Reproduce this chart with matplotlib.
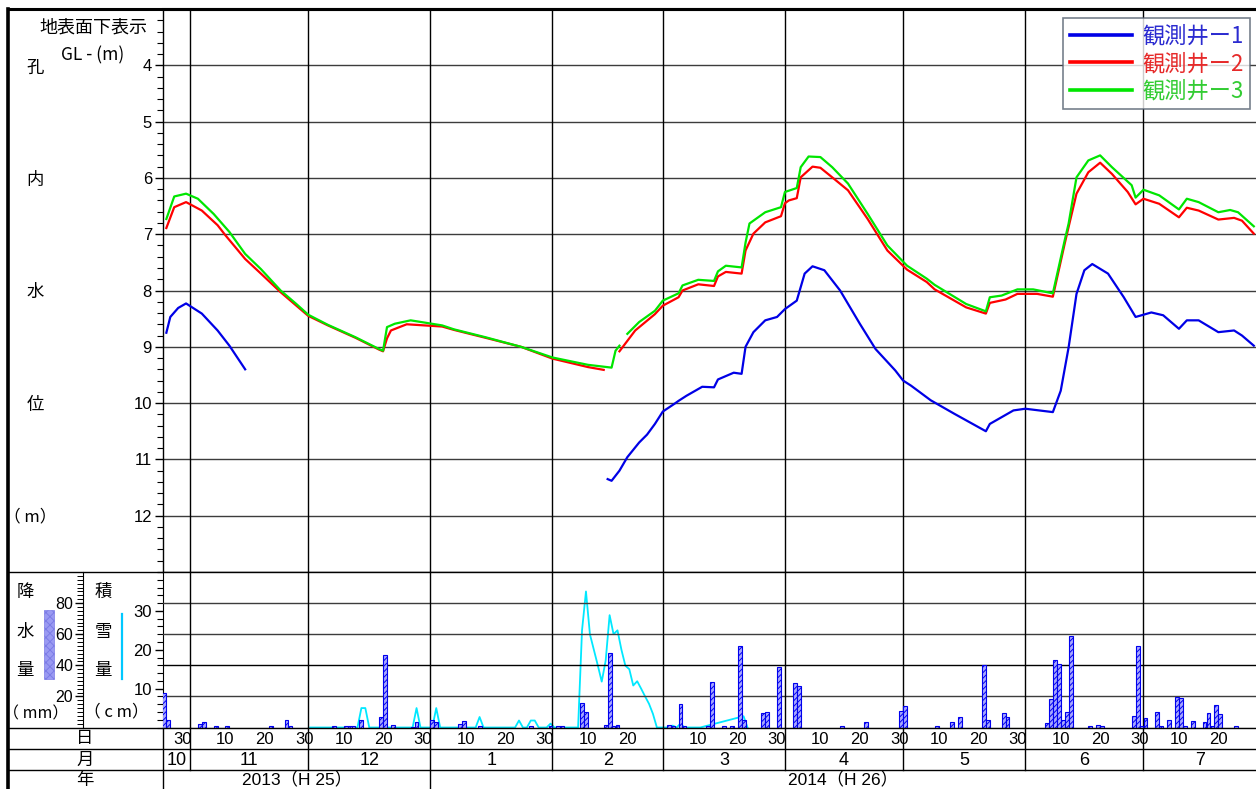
import numpy as np
import pandas as pd
import matplotlib
matplotlib.use("Agg")
import matplotlib.pyplot as plt
import matplotlib.dates as mdates
from matplotlib.lines import Line2D
from matplotlib.patches import Rectangle
from matplotlib.ticker import MultipleLocator, FixedLocator

plt.rcParams['font.family'] = ['Liberation Sans', 'Noto Sans CJK JP', 'DejaVu Sans']
plt.rcParams['hatch.linewidth'] = 0.7
JP = ['Noto Sans CJK JP', 'DejaVu Sans']
nan = np.nan

# ---------------- data ----------------
SERIES_NAMES = ['観測井ー1', '観測井ー2', '観測井ー3']

WELL1 = [('2013-10-26', 8.75), ('2013-10-27', 8.47), ('2013-10-29', 8.31), ('2013-10-31', 8.23),
         ('2013-11-04', 8.41), ('2013-11-08', 8.71), ('2013-11-11', 8.98), ('2013-11-15', 9.40),
         ('2013-11-16', nan),
         ('2014-02-15', 11.35), ('2014-02-16', 11.38), ('2014-02-18', 11.20), ('2014-02-20', 10.96),
         ('2014-02-23', 10.70), ('2014-02-25', 10.56), ('2014-02-27', 10.37), ('2014-03-01', 10.15),
         ('2014-03-04', 10.01), ('2014-03-05', 9.96), ('2014-03-07', 9.87), ('2014-03-11', 9.71),
         ('2014-03-14', 9.72), ('2014-03-15', 9.58), ('2014-03-19', 9.46), ('2014-03-21', 9.48),
         ('2014-03-22', 9.00), ('2014-03-24', 8.74), ('2014-03-27', 8.53), ('2014-03-30', 8.47),
         ('2014-04-01', 8.33), ('2014-04-04', 8.18), ('2014-04-06', 7.70), ('2014-04-08', 7.57),
         ('2014-04-11', 7.64), ('2014-04-15', 8.00), ('2014-04-20', 8.59), ('2014-04-24', 9.04),
         ('2014-04-29', 9.42), ('2014-05-01', 9.60), ('2014-05-03', 9.69), ('2014-05-08', 9.95),
         ('2014-05-14', 10.19), ('2014-05-22', 10.50), ('2014-05-23', 10.37), ('2014-05-29', 10.13),
         ('2014-06-01', 10.10), ('2014-06-08', 10.16), ('2014-06-10', 9.78), ('2014-06-12', 9.01),
         ('2014-06-14', 8.06), ('2014-06-16', 7.64), ('2014-06-18', 7.53), ('2014-06-22', 7.70),
         ('2014-06-26', 8.12), ('2014-06-29', 8.47), ('2014-07-03', 8.39), ('2014-07-06', 8.44),
         ('2014-07-10', 8.68), ('2014-07-12', 8.53), ('2014-07-15', 8.53), ('2014-07-20', 8.74),
         ('2014-07-24', 8.71), ('2014-07-26', 8.80), ('2014-07-29', 8.98)]

WELL2 = [('2013-10-26', 6.89), ('2013-10-28', 6.52), ('2013-10-31', 6.43), ('2013-11-04', 6.58),
         ('2013-11-08', 6.84), ('2013-11-10', 7.02), ('2013-11-15', 7.44), ('2013-11-19', 7.70),
         ('2013-11-24', 8.03), ('2013-11-28', 8.27), ('2013-12-01', 8.45), ('2013-12-06', 8.62),
         ('2013-12-13', 8.84), ('2013-12-19', 9.05), ('2013-12-20', 9.08), ('2013-12-21', 8.85),
         ('2013-12-22', 8.71), ('2013-12-26', 8.60), ('2014-01-04', 8.64), ('2014-01-07', 8.70),
         ('2014-01-15', 8.84), ('2014-01-24', 9.00), ('2014-02-01', 9.21), ('2014-02-10', 9.36),
         ('2014-02-14', 9.41), ('2014-02-15', nan),
         ('2014-02-18', 9.08), ('2014-02-22', 8.71), ('2014-02-27', 8.42), ('2014-03-01', 8.27),
         ('2014-03-05', 8.12), ('2014-03-06', 8.00), ('2014-03-10', 7.89), ('2014-03-14', 7.92),
         ('2014-03-15', 7.75), ('2014-03-17', 7.67), ('2014-03-21', 7.70), ('2014-03-22', 7.29),
         ('2014-03-24', 6.99), ('2014-03-27', 6.79), ('2014-03-31', 6.68), ('2014-04-01', 6.45),
         ('2014-04-02', 6.40), ('2014-04-04', 6.36), ('2014-04-05', 5.99), ('2014-04-08', 5.80),
         ('2014-04-10', 5.82), ('2014-04-13', 5.99), ('2014-04-17', 6.22), ('2014-04-22', 6.73),
         ('2014-04-27', 7.29), ('2014-05-02', 7.63), ('2014-05-07', 7.85), ('2014-05-09', 7.98),
         ('2014-05-17', 8.30), ('2014-05-22', 8.41), ('2014-05-23', 8.22), ('2014-05-27', 8.16),
         ('2014-05-30', 8.06), ('2014-06-04', 8.06), ('2014-06-08', 8.11), ('2014-06-11', 7.17),
         ('2014-06-12', 6.87), ('2014-06-14', 6.28), ('2014-06-17', 5.90), ('2014-06-20', 5.73),
         ('2014-06-23', 5.93), ('2014-06-27', 6.25), ('2014-06-29', 6.47), ('2014-07-01', 6.37),
         ('2014-07-05', 6.46), ('2014-07-10', 6.70), ('2014-07-12', 6.53), ('2014-07-15', 6.58),
         ('2014-07-20', 6.74), ('2014-07-24', 6.71), ('2014-07-26', 6.76), ('2014-07-29', 6.99)]

WELL3 = [('2013-10-26', 6.73), ('2013-10-28', 6.33), ('2013-10-31', 6.28), ('2013-11-03', 6.37),
         ('2013-11-07', 6.64), ('2013-11-11', 6.96), ('2013-11-15', 7.35), ('2013-11-19', 7.62),
         ('2013-11-24', 8.00), ('2013-11-28', 8.24), ('2013-12-01', 8.43), ('2013-12-06', 8.61),
         ('2013-12-13', 8.83), ('2013-12-19', 9.04), ('2013-12-20', 9.07), ('2013-12-21', 8.65),
         ('2013-12-23', 8.59), ('2013-12-27', 8.53), ('2014-01-04', 8.62), ('2014-01-07', 8.69),
         ('2014-01-15', 8.83), ('2014-01-24', 9.00), ('2014-02-01', 9.19), ('2014-02-10', 9.32),
         ('2014-02-16', 9.37), ('2014-02-17', 9.07), ('2014-02-18', 8.98), ('2014-02-19', nan),
         ('2014-02-20', 8.77), ('2014-02-23', 8.56), ('2014-02-27', 8.36), ('2014-03-01', 8.18),
         ('2014-03-05', 8.05), ('2014-03-06', 7.91), ('2014-03-10', 7.81), ('2014-03-14', 7.83),
         ('2014-03-15', 7.66), ('2014-03-17', 7.56), ('2014-03-21', 7.59), ('2014-03-22', 7.15),
         ('2014-03-23', 6.81), ('2014-03-27', 6.61), ('2014-03-31', 6.52), ('2014-04-01', 6.25),
         ('2014-04-04', 6.18), ('2014-04-05', 5.81), ('2014-04-07', 5.62), ('2014-04-10', 5.63),
         ('2014-04-13', 5.81), ('2014-04-17', 6.10), ('2014-04-22', 6.64), ('2014-04-27', 7.20),
         ('2014-05-02', 7.56), ('2014-05-07', 7.79), ('2014-05-09', 7.90), ('2014-05-17', 8.24),
         ('2014-05-22', 8.37), ('2014-05-23', 8.12), ('2014-05-26', 8.09), ('2014-05-30', 7.98),
         ('2014-06-03', 7.98), ('2014-06-08', 8.05), ('2014-06-11', 7.11), ('2014-06-12', 6.81),
         ('2014-06-14', 5.99), ('2014-06-17', 5.69), ('2014-06-20', 5.60), ('2014-06-23', 5.81),
         ('2014-06-28', 6.13), ('2014-06-29', 6.35), ('2014-07-01', 6.21), ('2014-07-05', 6.31),
         ('2014-07-10', 6.56), ('2014-07-12', 6.37), ('2014-07-15', 6.43), ('2014-07-20', 6.61),
         ('2014-07-23', 6.57), ('2014-07-25', 6.61), ('2014-07-29', 6.86)]

# daily precipitation (mm)
RAIN = [('2013-10-25', 22.5), ('2013-10-26', 5.0), ('2013-11-03', 2.2), ('2013-11-04', 3.7),
        ('2013-11-07', 1.0), ('2013-11-10', 1.2), ('2013-11-21', 1.0), ('2013-11-25', 5.0),
        ('2013-11-26', 1.0), ('2013-12-07', 1.0), ('2013-12-10', 1.2), ('2013-12-11', 1.0),
        ('2013-12-12', 1.0), ('2013-12-14', 4.6), ('2013-12-19', 6.9), ('2013-12-20', 46.9),
        ('2013-12-22', 1.3), ('2013-12-27', 0.6), ('2013-12-28', 3.5), ('2014-01-01', 5.0),
        ('2014-01-02', 3.5), ('2014-01-08', 2.2), ('2014-01-09', 4.3), ('2014-01-13', 1.2),
        ('2014-01-26', 1.0), ('2014-01-31', 1.0), ('2014-02-02', 1.0), ('2014-02-03', 0.8),
        ('2014-02-08', 15.5), ('2014-02-09', 9.7), ('2014-02-14', 1.5), ('2014-02-15', 47.6),
        ('2014-02-16', 1.0), ('2014-02-17', 1.7), ('2014-03-02', 1.5), ('2014-03-03', 1.0),
        ('2014-03-05', 14.9), ('2014-03-06', 1.0), ('2014-03-12', 1.2), ('2014-03-13', 29.0),
        ('2014-03-16', 0.7), ('2014-03-18', 1.0), ('2014-03-20', 52.2), ('2014-03-21', 4.6),
        ('2014-03-26', 9.1), ('2014-03-27', 10.1), ('2014-03-30', 38.6), ('2014-04-03', 28.3),
        ('2014-04-04', 26.6), ('2014-04-15', 1.0), ('2014-04-21', 3.5), ('2014-04-30', 10.6),
        ('2014-05-01', 14.0), ('2014-05-09', 1.0), ('2014-05-13', 3.5), ('2014-05-15', 6.7),
        ('2014-05-21', 40.5), ('2014-05-22', 4.6), ('2014-05-26', 9.1), ('2014-05-27', 6.9),
        ('2014-06-06', 2.7), ('2014-06-07', 18.1), ('2014-06-08', 43.3), ('2014-06-09', 41.1),
        ('2014-06-10', 5.0), ('2014-06-11', 9.7), ('2014-06-12', 58.7), ('2014-06-17', 1.0),
        ('2014-06-19', 1.5), ('2014-06-20', 1.0), ('2014-06-28', 7.6), ('2014-06-29', 52.2),
        ('2014-06-30', 1.0), ('2014-07-01', 5.9), ('2014-07-04', 10.1), ('2014-07-05', 1.0),
        ('2014-07-07', 4.8), ('2014-07-09', 19.4), ('2014-07-10', 18.7), ('2014-07-11', 1.0),
        ('2014-07-13', 4.4), ('2014-07-16', 3.3), ('2014-07-17', 9.1), ('2014-07-18', 1.0),
        ('2014-07-19', 14.4), ('2014-07-20', 8.5), ('2014-07-24', 1.0)]

# snow depth (cm)
SNOW = [('2013-12-01', 0), ('2013-12-13', 0), ('2013-12-14', 5), ('2013-12-15', 5), ('2013-12-16', 0),
        ('2013-12-27', 0), ('2013-12-28', 5), ('2013-12-29', 0), ('2014-01-01', 0), ('2014-01-02', 5),
        ('2014-01-03', 0), ('2014-01-12', 0), ('2014-01-13', 2.7), ('2014-01-14', 0), ('2014-01-22', 0),
        ('2014-01-23', 1.8), ('2014-01-24', 0), ('2014-01-25', 0), ('2014-01-26', 1.8), ('2014-01-27', 1.8),
        ('2014-01-28', 0), ('2014-01-30', 0), ('2014-01-31', 1.0), ('2014-02-01', 0), ('2014-02-07', 0),
        ('2014-02-08', 25), ('2014-02-09', 35), ('2014-02-10', 24), ('2014-02-11', 20), ('2014-02-12', 16),
        ('2014-02-13', 11.8), ('2014-02-14', 17.2), ('2014-02-15', 28.9), ('2014-02-16', 24),
        ('2014-02-17', 25), ('2014-02-18', 20), ('2014-02-19', 15.9), ('2014-02-20', 15),
        ('2014-02-21', 10.8), ('2014-02-22', 11.9), ('2014-02-23', 10), ('2014-02-24', 8),
        ('2014-02-25', 6.1), ('2014-02-26', 3.5), ('2014-02-27', 0), ('2014-03-02', 0),
        ('2014-03-03', 0.5), ('2014-03-04', 0), ('2014-03-05', 1.0), ('2014-03-06', 0),
        ('2014-03-10', 0), ('2014-03-21', 2.9), ('2014-03-22', 0)]

MONTH_STARTS = ['2013-10-01', '2013-11-01', '2013-12-01', '2014-01-01', '2014-02-01', '2014-03-01',
                '2014-04-01', '2014-05-01', '2014-06-01', '2014-07-01', '2014-08-01']
MONTH_LABELS = ['10', '11', '12', '1', '2', '3', '4', '5', '6', '7']
DAY_TICKS = [10, 20, 30]
YEAR_LABELS = [('2013-01-01', '2014-01-01', '2013（H 25）'), ('2014-01-01', '2015-01-01', '2014（H 26）')]
LINE_COLORS = ['#0000e6', '#ff0000', '#00e600']
TEXT_COLORS = ['#2b2bd0', '#e62a2a', '#33cc33']


def to_num(seq):
    return mdates.date2num(pd.to_datetime(list(seq)).to_pydatetime())


def unzip(pairs):
    d, v = zip(*pairs)
    return to_num(d), np.array(v, dtype=float)


# ---------------- layout ----------------
W, H = 1256, 789
XL, XR = 163, 1256
Y_TOP, Y_MID, Y_BASE, Y_R1, Y_R2 = 9, 572, 727.5, 749, 770


def box(x0, y0, x1, y1):
    return [x0 / W, 1 - y1 / H, (x1 - x0) / W, (y1 - y0) / H]


fig = plt.figure(figsize=(W / 100, H / 100), dpi=100)
ax = fig.add_axes(box(XL, Y_TOP, XR, Y_MID))
axl = fig.add_axes(box(XL, Y_MID, XR, Y_BASE), sharex=ax)
axt = fig.add_axes(box(XL, Y_BASE, XR, H), sharex=ax)

nov1 = to_num(['2013-11-01'])[0]
x_left = nov1 - 27 / 3.94
x_right = nov1 + (XR - 190) / 3.94
ax.set_xlim(x_left, x_right)

months = to_num(MONTH_STARTS)
inner_months = [m for m in months if x_left < m < x_right]

# ---------------- upper panel ----------------
for (pairs, col) in zip([WELL1, WELL2, WELL3], LINE_COLORS):
    x, y = unzip(pairs)
    ax.plot(x, y, color=col, lw=1.6, zorder=3, solid_joinstyle='round')

ax.set_ylim(13, 3)
ax.yaxis.set_major_locator(FixedLocator(range(4, 13)))
ax.yaxis.set_minor_locator(MultipleLocator(0.2))
ax.tick_params(axis='y', which='major', length=6, width=1, labelsize=12, pad=2)
ax.tick_params(axis='y', which='minor', length=4, width=0.8)
ax.tick_params(axis='x', which='both', bottom=False, labelbottom=False)
for v in range(4, 13):
    ax.axhline(v, color='#3c3c3c', lw=1.0, zorder=1)
for m in inner_months:
    ax.axvline(m, color='black', lw=1.0, zorder=1)
ax.spines['right'].set_visible(False)
ax.spines['top'].set_linewidth(2.2)
ax.spines['left'].set_linewidth(1.0)
ax.spines['bottom'].set_linewidth(1.0)

handles = [Line2D([], [], color=c, lw=2.6) for c in LINE_COLORS]
leg = ax.legend(handles, SERIES_NAMES, loc='upper right',
                bbox_to_anchor=((1250 - XL) / (XR - XL), (Y_MID - 18) / (Y_MID - Y_TOP)),
                prop={'family': JP, 'size': 16}, handlelength=2.8, frameon=True, fancybox=False,
                edgecolor='#556070', borderpad=0.3, labelspacing=0.2, handletextpad=0.45,
                borderaxespad=0)
leg.get_frame().set_linewidth(1.2)
for t, c in zip(leg.get_texts(), TEXT_COLORS):
    t.set_color(c)

# ---------------- lower panel ----------------
axl.set_ylim(0, 40)
axl.yaxis.set_major_locator(FixedLocator([10, 20, 30]))
axl.yaxis.set_minor_locator(MultipleLocator(2))
axl.tick_params(axis='y', which='major', length=6, width=1, labelsize=12, pad=2)
axl.tick_params(axis='y', which='minor', length=4, width=0.8)
axl.tick_params(axis='x', which='both', bottom=False, labelbottom=False)
axl.spines['right'].set_visible(False)
axl.spines['top'].set_visible(False)
sx, sv = unzip(SNOW)
axl.plot(sx + 0.5, sv, color='#00e8ff', lw=1.3, zorder=2)

axp = axl.twinx()
axp.set_ylim(0, 100)
axp.spines['right'].set_visible(False)
axp.spines['top'].set_visible(False)
axp.spines['bottom'].set_visible(False)
axp.spines['left'].set_position(('axes', (83 - XL) / (XR - XL)))
axp.yaxis.set_ticks_position('left')
axp.yaxis.set_label_position('left')
axp.yaxis.set_major_locator(FixedLocator([20, 40, 60, 80]))
axp.yaxis.set_minor_locator(MultipleLocator(2.5))
axp.tick_params(axis='y', which='major', length=6, width=1, labelsize=11.5, pad=1)
axp.tick_params(axis='y', which='minor', length=4, width=0.7)
for v in [20, 40, 60, 80]:
    axp.axhline(v, color='#3c3c3c' if v != 40 else 'black', lw=1.0, zorder=1)
for m in inner_months:
    axp.axvline(m, color='black', lw=1.0, zorder=1)
rx, rv = unzip(RAIN)
axp.bar(rx + 0.5, rv, width=0.98, facecolor='#a8a8ff', edgecolor='#0000ee',
        hatch='//////', lw=0.8, zorder=3)

# ---------------- date table ----------------
axt.set_ylim(H, Y_BASE)
axt.set_yticks([])
axt.tick_params(axis='x', which='both', bottom=False, labelbottom=False)
for s in ['right', 'bottom', 'top']:
    axt.spines[s].set_visible(False)
axt.spines['left'].set_linewidth(1.0)
jan1 = to_num(['2014-01-01'])[0]
for m in inner_months:
    axt.plot([m, m], [Y_BASE, H if m == jan1 else Y_R2], color='black', lw=1.0, clip_on=False)

# day labels
for ms in pd.to_datetime(MONTH_STARTS[:-1]):
    for d in DAY_TICKS:
        if d > ms.days_in_month:
            continue
        dn = to_num([ms + pd.Timedelta(days=d - 1)])[0]
        if x_left + 2 < dn < x_right - 2:
            axt.text(dn, (Y_BASE + Y_R1) / 2 + 1, str(d), ha='center', va='center', fontsize=12)
# month labels
for i, lab in enumerate(MONTH_LABELS):
    a, b = max(months[i], x_left), min(months[i + 1], x_right)
    axt.text((a + b) / 2, (Y_R1 + Y_R2) / 2 + 1, lab, ha='center', va='center', fontsize=13)
# year labels
for s, e, lab in YEAR_LABELS:
    a, b = max(to_num([s])[0], x_left), min(to_num([e])[0], x_right)
    axt.text((a + b) / 2, (Y_R2 + H) / 2 + 1, lab, ha='center', va='center', fontsize=12.5,
             family=['Liberation Sans', 'Noto Sans CJK JP'])

# ---------------- overlay: frame and left labels ----------------
ov = fig.add_axes([0, 0, 1, 1])
ov.set_xlim(0, W)
ov.set_ylim(H, 0)
ov.axis('off')
ov.plot([8, W], [Y_TOP, Y_TOP], color='black', lw=2.2)
ov.plot([8, 8], [Y_TOP, H], color='black', lw=2.6)
for yy in [Y_MID, Y_BASE, Y_R1, Y_R2]:
    ov.plot([8, W], [yy, yy], color='black', lw=1.0)

ov.text(93, 27, '地表面下表示', ha='center', va='center', fontsize=13, family=JP)
ov.text(93, 55, 'GL - (m)', ha='center', va='center', fontsize=12.5, family=JP)
for ch, yy in zip('孔内水位', [68, 180, 292, 405]):
    ov.text(35, yy, ch, ha='center', va='center', fontsize=12.5, family=JP)
ov.text(30, 517, '（ m）', ha='center', va='center', fontsize=12, family=JP)

for ch, yy in zip('降水量', [592, 632, 670]):
    ov.text(25, yy, ch, ha='center', va='center', fontsize=12.5, family=JP)
ov.text(36, 714, '（ mm）', ha='center', va='center', fontsize=11.5, family=JP)
ov.add_patch(Rectangle((44, 610), 9.5, 69, facecolor='#9a9af2', edgecolor='#7c7ce6',
                       hatch='xxxx', lw=0.5))
for ch, yy in zip('積雪量', [592, 632, 670]):
    ov.text(103, yy, ch, ha='center', va='center', fontsize=12.5, family=JP)
ov.text(116, 712, '（ c m）', ha='center', va='center', fontsize=12, family=JP)
ov.plot([121.7, 121.7], [614, 679], color='#00c8ff', lw=1.6)

ov.text(85, 738.5, '日', ha='center', va='center', fontsize=12.5, family=JP)
ov.text(85, 759.5, '月', ha='center', va='center', fontsize=12.5, family=JP)
ov.text(85, 779.5, '年', ha='center', va='center', fontsize=12.5, family=JP)

fig.savefig('out.png', dpi=100)
